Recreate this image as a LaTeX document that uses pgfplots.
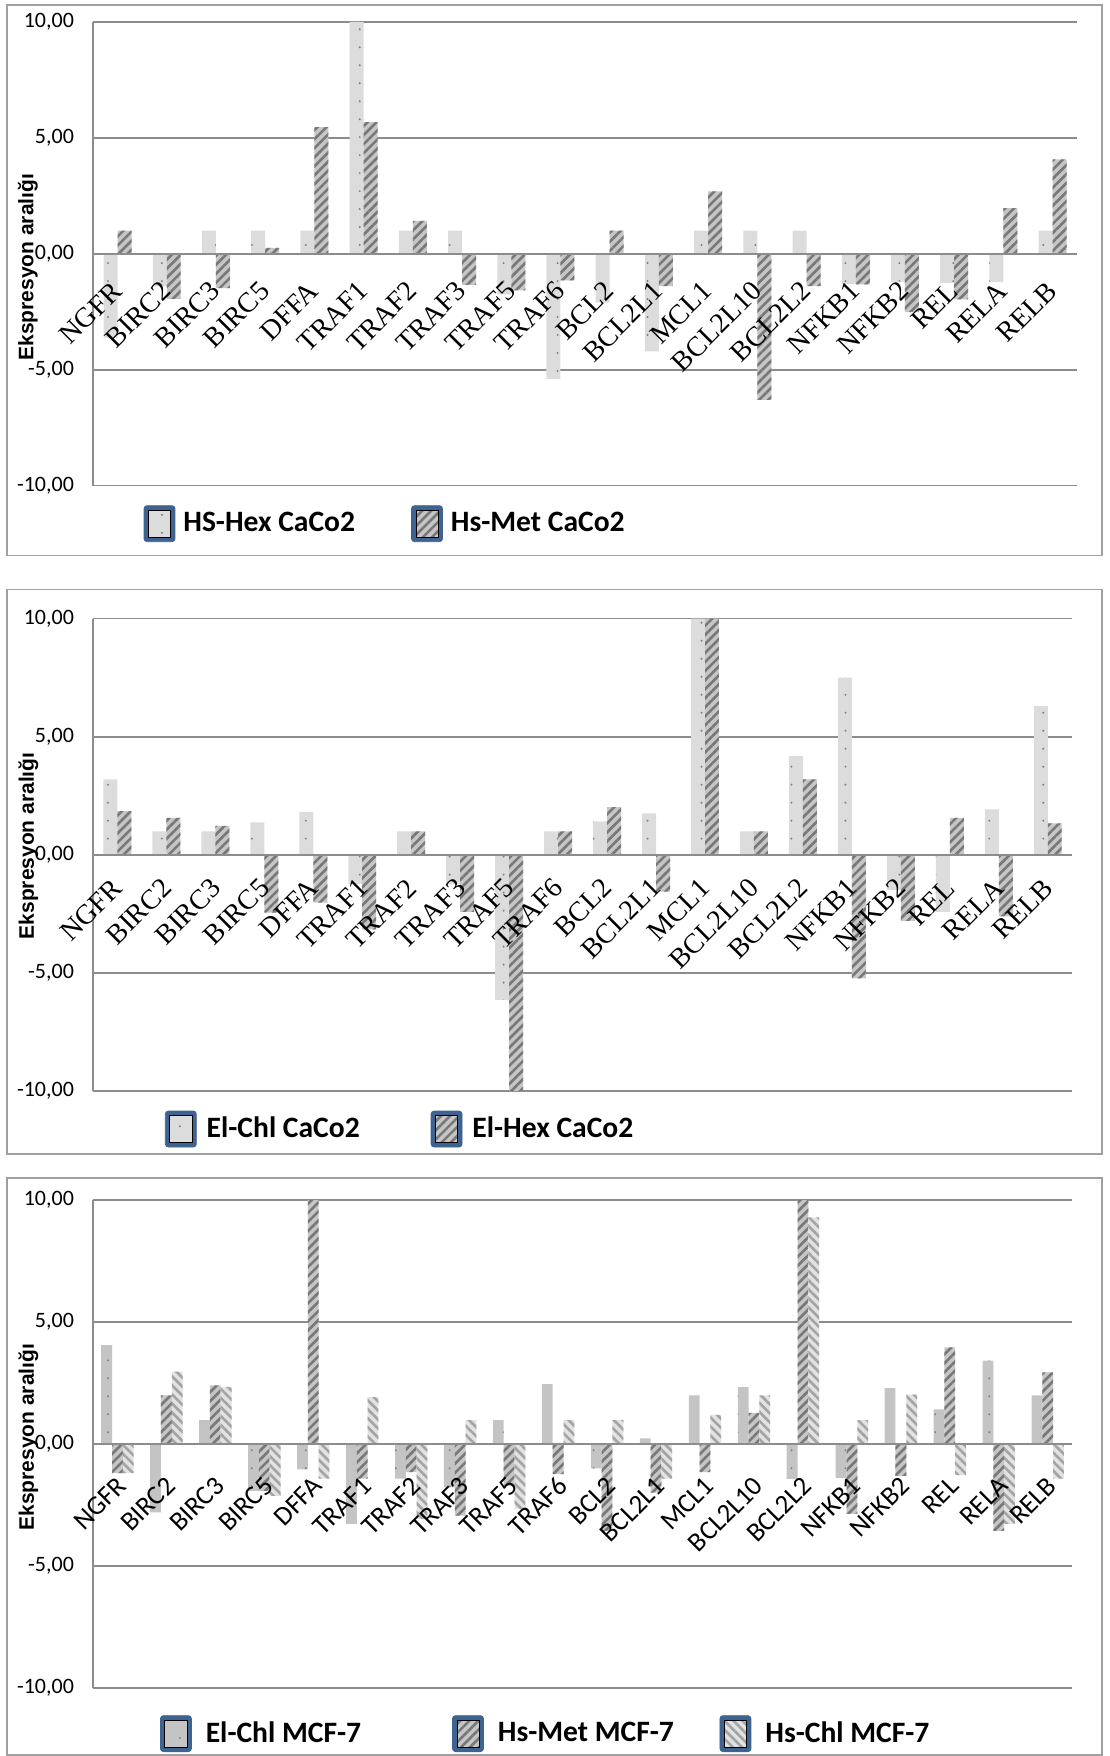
\documentclass[border=0pt]{standalone}
\usepackage{pgfplots}
\pgfplotsset{compat=1.18}
\usepackage{pgfplotstable}
\usetikzlibrary{patterns.meta}
\usepackage{fontspec}
\setmainfont{Liberation Serif}
\newfontfamily\carlito{Carlito}
\newfontfamily\arial{Liberation Sans}
\definecolor{gridgray}{HTML}{8C8C8C}
\definecolor{framegray}{HTML}{A0A0A0}
\definecolor{legblue}{HTML}{3F6391}
\definecolor{lightbar}{HTML}{DCDCDC}
\definecolor{midbar}{HTML}{C4C4C4}
\definecolor{stripebg}{HTML}{C6C6C6}
\definecolor{stripefg}{HTML}{787878}
\definecolor{stripebgB}{HTML}{E2E2E2}
\definecolor{stripefgB}{HTML}{A4A4A4}

\pgfplotstableread{
idx a b
0 -3.62 1.00
1 -1.40 -1.94
2 1.00 -1.48
3 1.00 0.26
4 1.00 5.46
5 10.00 5.68
6 1.00 1.42
7 1.00 -1.34
8 -1.75 -1.58
9 -5.39 -1.15
10 -2.11 1.00
11 -4.21 -1.39
12 1.00 2.69
13 1.00 -6.30
14 1.00 -1.39
15 -1.30 -1.32
16 -1.20 -2.51
17 -1.25 -1.97
18 -1.22 1.97
19 1.00 4.07
}\dataA

\pgfplotstableread{
idx a b
0 3.20 1.85
1 1.00 1.57
2 1.00 1.23
3 1.38 -2.44
4 1.82 -2.02
5 -1.23 -3.15
6 1.00 1.00
7 -1.25 -2.41
8 -6.14 -10.00
9 1.00 1.00
10 1.42 2.02
11 1.76 -1.55
12 10.00 10.00
13 1.00 1.00
14 4.19 3.20
15 7.50 -5.22
16 -1.48 -2.79
17 -2.41 1.57
18 1.93 -2.60
19 6.30 1.33
}\dataB

\pgfplotstableread{
idx a b c
0 4.05 -1.20 -1.20
1 -2.81 1.99 2.97
2 0.98 2.40 2.34
3 -1.92 -1.92 -2.13
4 -1.04 10.00 -1.42
5 -3.28 -1.42 1.92
6 -1.42 -1.15 -3.08
7 -1.78 -2.94 0.98
8 0.98 -1.72 -2.67
9 2.45 -1.24 0.98
10 -1.00 -3.56 0.98
11 0.23 -2.00 -1.42
12 1.99 -1.15 1.19
13 2.33 1.28 1.99
14 -1.43 10.00 9.29
15 -1.40 -2.87 0.98
16 2.29 -1.31 2.02
17 1.42 3.96 -1.28
18 3.42 -3.56 -3.28
19 1.99 2.94 -1.42
}\dataC

\tikzset{
  sA/.style={fill=lightbar, draw=none, postaction={pattern={Dots[distance=9pt, radius=0.55pt]}, pattern color=gray}},
  sB/.style={fill=stripebg, draw=none, postaction={pattern={Lines[angle=45, distance=3.2pt, line width=1.3pt]}, pattern color=stripefg}},
  tA/.style={fill=midbar, draw=none, postaction={pattern={Dots[distance=9pt, radius=0.55pt]}, pattern color=gray}},
  tB/.style={fill=stripebg, draw=none, postaction={pattern={Lines[angle=45, distance=3.2pt, line width=1.3pt]}, pattern color=stripefg}},
  tC/.style={fill=stripebgB, draw=none, postaction={pattern={Lines[angle=-45, distance=3.2pt, line width=1.3pt]}, pattern color=stripefgB}},
}

\pgfplotsset{
  /pgfplots/layers/mylayers/.define layer set={
    axis background,axis grid,axis ticks,pre main,main,axis lines,axis tick labels,axis descriptions,axis foreground
  }{
    /pgfplots/grid style={/pgfplots/on layer=axis grid},
    /pgfplots/tick style={/pgfplots/on layer=axis ticks},
    /pgfplots/axis line style={/pgfplots/on layer=axis lines},
    /pgfplots/label style={/pgfplots/on layer=axis descriptions},
    /pgfplots/legend style={/pgfplots/on layer=axis descriptions},
    /pgfplots/title style={/pgfplots/on layer=axis descriptions},
    /pgfplots/colorbar style={/pgfplots/on layer=axis descriptions},
    /pgfplots/ticklabel style={/pgfplots/on layer=axis tick labels},
    /pgfplots/axis background@ style={/pgfplots/on layer=axis background},
    /pgfplots/3d box foreground style={/pgfplots/on layer=axis foreground},
  },
  legbox/.style={legend image code/.code={
      \fill[legblue, rounded corners=1.5pt] (0pt,-9pt) rectangle (15.5pt,9pt);
      \path[#1] (2.2pt,-6.8pt) rectangle (13.3pt,6.8pt);
  }},
  panel/.style={
    set layers=mylayers,
    scale only axis, ymin=-10, ymax=10, xmin=-0.5, xmax=19.5,
    axis x line=middle, axis y line=left,
    hide obscured y ticks=false,
    x axis line style={-, draw=gridgray, line width=0.8pt},
    y axis line style={-, draw=gridgray, line width=0.8pt},
    ymajorgrids, grid style={gridgray, line width=0.8pt},
    ytick={-10,-5,0,5,10},
    yticklabels={{-10,00},{-5,00},{0,00},{5,00},{10,00}},
    yticklabel style={font=\carlito\fontsize{11}{13}\selectfont, xshift=-6pt},
    xtick={0,...,19},
    xticklabels={NGFR,BIRC2,BIRC3,BIRC5,DFFA,TRAF1,TRAF2,TRAF3,TRAF5,TRAF6,BCL2,BCL2L1,MCL1,BCL2L10,BCL2L2,NFKB1,NFKB2,REL,RELA,RELB},
    major tick length=0pt,
    ylabel={Ekspresyon aralığı},
    legend style={draw=none, fill=none, legend columns=-1, anchor=west,
      font=\carlito\bfseries\fontsize{14.8}{17}\selectfont},
  },
}

\begin{document}
\begin{tikzpicture}
\path (0pt,0pt) rectangle (555pt,-878pt);
\draw[framegray, line width=0.8pt] (3.5pt,-2.5pt) rectangle (551.5pt,-278pt);
\draw[framegray, line width=0.8pt] (3.5pt,-295pt) rectangle (551.5pt,-577.5pt);
\draw[framegray, line width=0.8pt] (3.5pt,-589.5pt) rectangle (551.5pt,-878pt);

% Panel 1
\begin{axis}[panel, at={(46.5pt,-243pt)}, anchor=south west,
  width=492.5pt, height=232pt,
  xticklabel style={font=\fontsize{14}{16}\selectfont, xshift=0.5pt, yshift=-15.5pt, rotate=45, anchor=east, inner sep=1pt},
  ylabel style={font=\arial\bfseries\fontsize{10.5}{12}\selectfont, at={(axis description cs:-0.066,0.471)}, anchor=center},
  legend style={at={(axis description cs:0.045,-0.082)},
    /tikz/column 1/.style={column sep=2pt},
    /tikz/column 2/.style={column sep=26pt},
    /tikz/column 3/.style={column sep=2pt}}]
\addlegendimage{legbox=sA}
\addlegendimage{legbox=sB}
\addplot[ybar, bar width=7pt, bar shift=-3.5pt, sA] table[x=idx, y=a] {\dataA};
\addplot[ybar, bar width=7pt, bar shift=3.5pt, sB] table[x=idx, y=b] {\dataA};
\legend{HS-Hex CaCo2, Hs-Met CaCo2}
\end{axis}

% Panel 2
\begin{axis}[panel, at={(46.5pt,-546pt)}, anchor=south west,
  width=490pt, height=236.5pt,
  xticklabel style={font=\fontsize{14}{16}\selectfont, xshift=1pt, yshift=-13.5pt, rotate=45, anchor=east, inner sep=1pt},
  ylabel style={font=\arial\bfseries\fontsize{10.5}{12}\selectfont, at={(axis description cs:-0.066,0.519)}, anchor=center},
  legend style={at={(axis description cs:0.067,-0.08)},
    /tikz/column 1/.style={column sep=3pt},
    /tikz/column 2/.style={column sep=33.5pt},
    /tikz/column 3/.style={column sep=3pt}}]
\addlegendimage{legbox=sA}
\addlegendimage{legbox=sB}
\addplot[ybar, bar width=7pt, bar shift=-3.5pt, sA] table[x=idx, y=a] {\dataB};
\addplot[ybar, bar width=7pt, bar shift=3.5pt, sB] table[x=idx, y=b] {\dataB};
\legend{El-Chl CaCo2, El-Hex CaCo2}
\end{axis}

% Panel 3
\begin{axis}[panel, at={(46.5pt,-844.5pt)}, anchor=south west,
  width=490pt, height=244pt,
  xticklabel style={font=\carlito\fontsize{13.5}{15}\selectfont, xshift=3pt, yshift=-18pt, rotate=45, anchor=east, inner sep=1pt},
  ylabel style={font=\arial\bfseries\fontsize{10.5}{12}\selectfont, at={(axis description cs:-0.066,0.514)}, anchor=center},
  legend style={at={(axis description cs:0.062,-0.094)},
    /tikz/column 1/.style={column sep=5pt},
    /tikz/column 2/.style={column sep=43.5pt},
    /tikz/column 3/.style={column sep=5pt},
    /tikz/column 4/.style={column sep=20.8pt},
    /tikz/column 5/.style={column sep=5pt}}]
\addlegendimage{legbox=tA}
\addlegendimage{legbox=tB}
\addlegendimage{legbox=tC}
\addplot[ybar, bar width=5.4pt, bar shift=-5.4pt, tA] table[x=idx, y=a] {\dataC};
\addplot[ybar, bar width=5.4pt, bar shift=0pt, tB] table[x=idx, y=b] {\dataC};
\addplot[ybar, bar width=5.4pt, bar shift=5.4pt, tC] table[x=idx, y=c] {\dataC};
\legend{El-Chl MCF-7, Hs-Met MCF-7, Hs-Chl MCF-7}
\end{axis}
\end{tikzpicture}
\end{document}
